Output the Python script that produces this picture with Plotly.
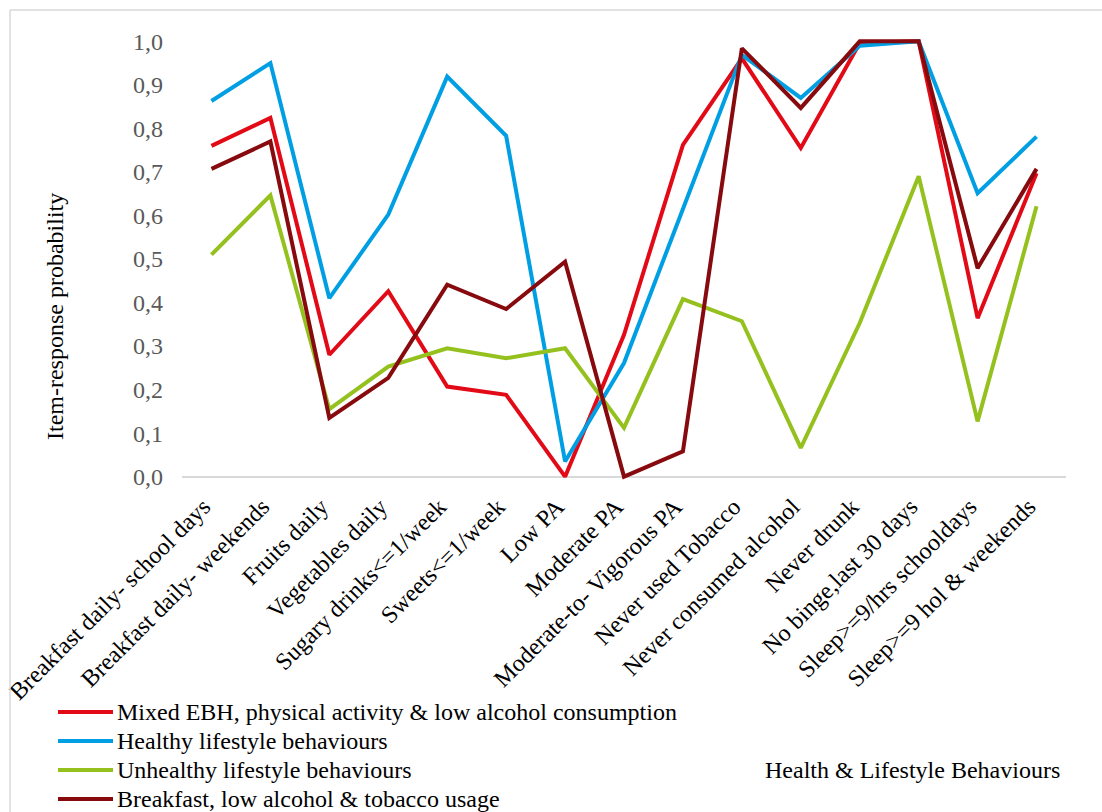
import plotly.graph_objects as go

categories = [
    "Breakfast daily- school days", "Breakfast daily- weekends", "Fruits daily",
    "Vegetables daily", "Sugary drinks<=1/week", "Sweets<=1/week", "Low PA",
    "Moderate PA", "Moderate-to- Vigorous PA", "Never used Tobacco",
    "Never consumed alcohol", "Never drunk", "No binge,last 30 days",
    "Sleep>=9/hrs schooldays", "Sleep>=9 hol & weekends",
]

mixed = [0.760, 0.824, 0.280, 0.426, 0.207, 0.188, 0.000, 0.326, 0.762, 0.961,
         0.755, 0.996, 1.000, 0.364, 0.697]
healthy = [0.863, 0.950, 0.410, 0.602, 0.919, 0.783, 0.035, 0.261, 0.615, 0.969,
           0.870, 0.990, 1.000, 0.651, 0.781]
unhealthy = [0.510, 0.646, 0.155, 0.253, 0.295, 0.272, 0.295, 0.112, 0.408, 0.357,
             0.066, 0.353, 0.690, 0.127, 0.621]
breakfast = [0.707, 0.770, 0.135, 0.227, 0.441, 0.385, 0.494, 0.000, 0.058, 0.984,
             0.847, 1.000, 1.000, 0.479, 0.707]

series_names = [
    "Mixed EBH, physical activity & low alcohol consumption",
    "Healthy lifestyle behaviours",
    "Unhealthy lifestyle behaviours",
    "Breakfast, low alcohol & tobacco usage",
]
series_values = [mixed, healthy, unhealthy, breakfast]
series_colors = ["#E30A17", "#009FE3", "#95C11F", "#870A0E"]

W, H = 1102, 812
L, R, T, B = 182, 36, 37, 331
FONT = "Liberation Serif, Times New Roman, serif"


def px_x(px):
    return (px - L) / (W - L - R)


def px_y(py):
    return (H - B - py) / (H - T - B)


fig = go.Figure()
for name, vals, col in zip(series_names, series_values, series_colors):
    fig.add_trace(go.Scatter(
        x=categories, y=vals, mode="lines", name=name,
        line=dict(color=col, width=4),
    ))

annotations = [
    dict(text="Item-response probability", textangle=-90, showarrow=False,
         xref="paper", yref="paper", x=px_x(55), y=px_y(317),
         xanchor="center", yanchor="middle",
         font=dict(family=FONT, size=24, color="black")),
    dict(text="Health & Lifestyle Behaviours", showarrow=False,
         xref="paper", yref="paper", x=px_x(1062), y=px_y(770),
         xanchor="right", yanchor="middle",
         font=dict(family=FONT, size=24, color="black")),
]
shapes = [
    dict(type="line", xref="paper", yref="paper",
         x0=px_x(10), x1=px_x(1102), y0=px_y(10), y1=px_y(10),
         line=dict(color="#D9D9D9", width=1.5)),
    dict(type="line", xref="paper", yref="paper",
         x0=px_x(10), x1=px_x(10), y0=px_y(10), y1=px_y(812),
         line=dict(color="#D9D9D9", width=1.5)),
]

# legend drawn as text + sample lines
legend_y0, legend_step = 712, 29
for i, (name, col) in enumerate(zip(series_names, series_colors)):
    yc = legend_y0 + i * legend_step
    shapes.append(dict(type="line", xref="paper", yref="paper",
                       x0=px_x(58), x1=px_x(113), y0=px_y(yc), y1=px_y(yc),
                       line=dict(color=col, width=4)))
    annotations.append(dict(text=name, showarrow=False, xref="paper", yref="paper",
                            x=px_x(115), y=px_y(yc), xanchor="left", yanchor="middle",
                            font=dict(family=FONT, size=24, color="black")))

fig.update_layout(
    width=W, height=H,
    margin=dict(l=L, r=R, t=T, b=B, autoexpand=False),
    paper_bgcolor="white", plot_bgcolor="white",
    separators=",.",
    font=dict(family=FONT, size=24, color="black"),
    showlegend=False,
    xaxis=dict(
        type="category", range=[-0.5, 14.5], showgrid=False, zeroline=False,
        showline=False,
        tickangle=-45, ticks="", ticklabelstandoff=6, ticklabelshift=-8,
        tickfont=dict(family=FONT, size=24, color="black"),
        fixedrange=True,
    ),
    yaxis=dict(
        range=[-0.01, 1.01], tickvals=[i / 10 for i in range(11)], tickformat=".1f",
        showgrid=False, zeroline=True, zerolinecolor="#D9D9D9", zerolinewidth=1.5,
        showline=False, ticks="",
        ticklabelstandoff=18,
        tickfont=dict(family=FONT, size=24, color="#595959"),
        fixedrange=True,
    ),
    annotations=annotations,
    shapes=shapes,
)

fig.write_html("out.html", post_script="document.body.style.margin='0';",
               config={"displayModeBar": False})
